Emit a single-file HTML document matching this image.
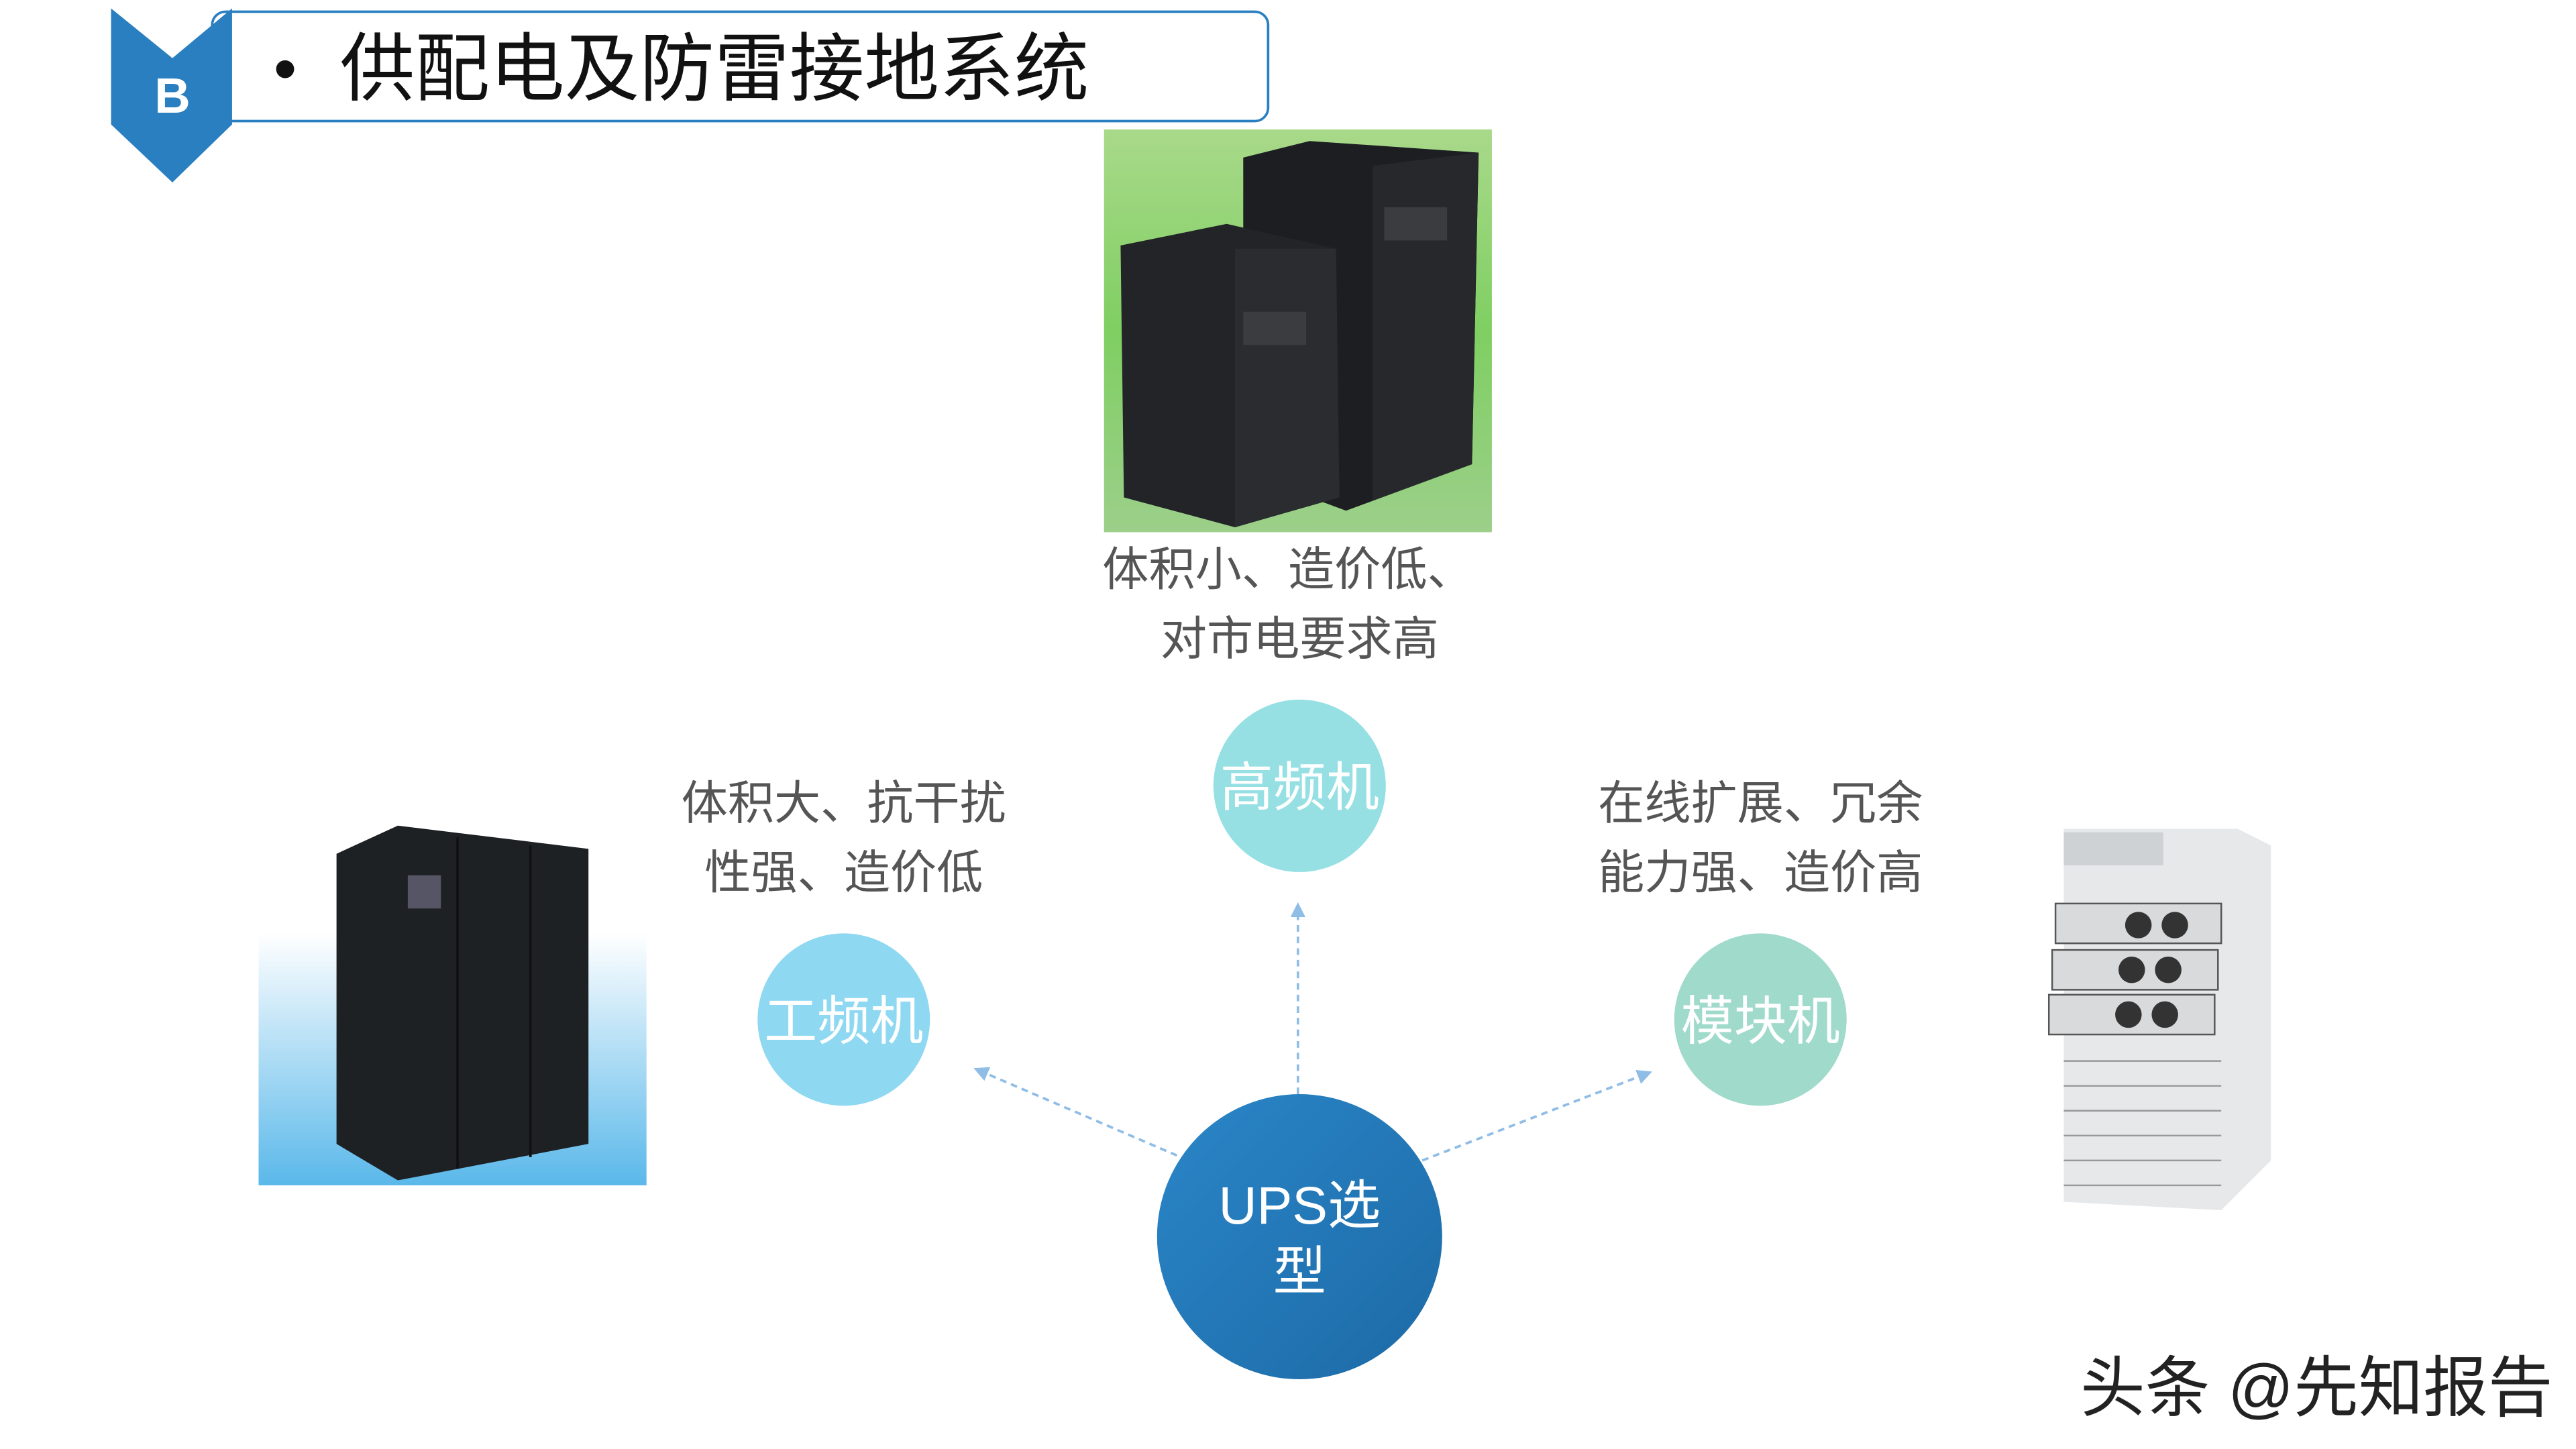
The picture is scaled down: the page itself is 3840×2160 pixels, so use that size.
<!DOCTYPE html>
<html><head><meta charset="utf-8"><style>
html,body{margin:0;padding:0;background:#fff;}
svg{display:block;}
text{font-family:"Liberation Sans","Noto Sans CJK SC",sans-serif;}
</style></head><body>
<svg width="3840" height="2160" viewBox="0 0 1554 874" xmlns="http://www.w3.org/2000/svg">
<defs>
<linearGradient id="g1" x1="0" y1="0" x2="0" y2="1"><stop offset="0" stop-color="#a9d98a"/><stop offset="0.5" stop-color="#7fcf62"/><stop offset="1" stop-color="#9ccf8a"/></linearGradient>
<linearGradient id="g2" x1="0" y1="0" x2="0" y2="1"><stop offset="0.3" stop-color="#ffffff"/><stop offset="1" stop-color="#5ab8ea"/></linearGradient>
<linearGradient id="gu" x1="0" y1="0" x2="1" y2="1"><stop offset="0" stop-color="#2a86c8"/><stop offset="1" stop-color="#1d6aa6"/></linearGradient>
<marker id="ar" viewBox="0 0 10 10" refX="8" refY="5" markerWidth="6" markerHeight="6" orient="auto"><path d="M0,0L10,5L0,10z" fill="#8fbde6"/></marker>
</defs>
<!-- header -->
<rect x="128" y="7" width="637" height="66" rx="8" fill="#fff" stroke="#2a7fc1" stroke-width="1.5"/>
<polygon points="67,5 104,35 140,5 140,75 104,110 67,75" fill="#2a7fc1"/>
<text x="104" y="68" font-size="30" font-weight="bold" fill="#fff" text-anchor="middle">B</text>
<text x="165" y="55" font-size="40" fill="#111">•</text>
<text x="205" y="57" font-size="45" fill="#111" textLength="452" lengthAdjust="spacingAndGlyphs">供配电及防雷接地系统</text>
<!-- top image -->
<rect x="666" y="78" width="234" height="243" fill="url(#g1)"/>
<polygon points="750,95 790,85 892,92 888,280 812,308 750,285" fill="#1c1e22"/>
<polygon points="828,100 892,92 888,280 828,302" fill="#26282c"/>
<polygon points="676,148 740,135 806,150 808,300 745,318 678,300" fill="#222428"/>
<polygon points="745,150 806,150 808,300 745,318" fill="#2a2c30"/>
<rect x="835" y="125" width="38" height="20" fill="#3a3c40"/>
<rect x="750" y="188" width="38" height="20" fill="#3a3c40"/>
<!-- top text -->
<text x="777" y="353" font-size="28" fill="#555" text-anchor="middle">体积小、造价低、</text>
<text x="784" y="395" font-size="28" fill="#555" text-anchor="middle">对市电要求高</text>
<!-- side texts -->
<text x="509" y="494" font-size="28" fill="#555" text-anchor="middle">体积大、抗干扰</text>
<text x="509" y="536" font-size="28" fill="#555" text-anchor="middle">性强、造价低</text>
<text x="1062" y="494" font-size="28" fill="#555" text-anchor="middle">在线扩展、冗余</text>
<text x="1062" y="536" font-size="28" fill="#555" text-anchor="middle">能力强、造价高</text>
<!-- arrows -->
<g stroke="#8fbde6" stroke-width="1.5" stroke-dasharray="4,3" fill="none">
<line x1="783" y1="660" x2="783" y2="546" marker-end="url(#ar)"/>
<line x1="710" y1="697" x2="589" y2="645" marker-end="url(#ar)"/>
<line x1="858" y1="700" x2="995" y2="647" marker-end="url(#ar)"/>
</g>
<!-- circles -->
<circle cx="784" cy="474" r="52" fill="#96e0e4"/>
<text x="784" y="486" font-size="32" fill="#fff" text-anchor="middle">高频机</text>
<circle cx="509" cy="615" r="52" fill="#8fd8f2"/>
<text x="509" y="627" font-size="32" fill="#fff" text-anchor="middle">工频机</text>
<circle cx="1062" cy="615" r="52" fill="#a0dacb"/>
<text x="1062" y="627" font-size="32" fill="#fff" text-anchor="middle">模块机</text>
<circle cx="784" cy="746" r="86" fill="url(#gu)"/>
<text x="784" y="738" font-size="32" fill="#fff" text-anchor="middle">UPS选</text>
<text x="784" y="778" font-size="32" fill="#fff" text-anchor="middle">型</text>
<!-- left image -->
<rect x="156" y="498" width="234" height="217" fill="url(#g2)"/>
<polygon points="203,515 240,498 355,512 355,690 240,712 203,690" fill="#1e2124"/>
<line x1="276" y1="505" x2="276" y2="705" stroke="#111" stroke-width="1.5"/>
<line x1="320" y1="510" x2="320" y2="698" stroke="#111" stroke-width="1.5"/>
<rect x="246" y="528" width="20" height="20" fill="#556"/>
<!-- right image -->
<polygon points="1245,500 1350,500 1370,510 1370,700 1340,730 1245,725" fill="#e6e8ea"/>
<rect x="1245" y="502" width="60" height="20" fill="#cfd2d5"/>
<rect x="1240" y="545" width="100" height="24" fill="#d8dadc" stroke="#555"/>
<rect x="1238" y="573" width="100" height="24" fill="#d8dadc" stroke="#555"/>
<rect x="1236" y="600" width="100" height="24" fill="#d8dadc" stroke="#555"/>
<g fill="#333"><circle cx="1290" cy="558" r="8"/><circle cx="1312" cy="558" r="8"/><circle cx="1286" cy="585" r="8"/><circle cx="1308" cy="585" r="8"/><circle cx="1284" cy="612" r="8"/><circle cx="1306" cy="612" r="8"/></g>
<g stroke="#999" stroke-width="1"><line x1="1245" y1="640" x2="1340" y2="640"/><line x1="1245" y1="655" x2="1340" y2="655"/><line x1="1245" y1="670" x2="1340" y2="670"/><line x1="1245" y1="685" x2="1340" y2="685"/><line x1="1245" y1="700" x2="1340" y2="700"/><line x1="1245" y1="715" x2="1340" y2="715"/></g>
<!-- watermark -->
<text x="1255" y="851" font-size="40" fill="#222" textLength="285" lengthAdjust="spacingAndGlyphs">头条 @先知报告</text>
</svg>
</body></html>
